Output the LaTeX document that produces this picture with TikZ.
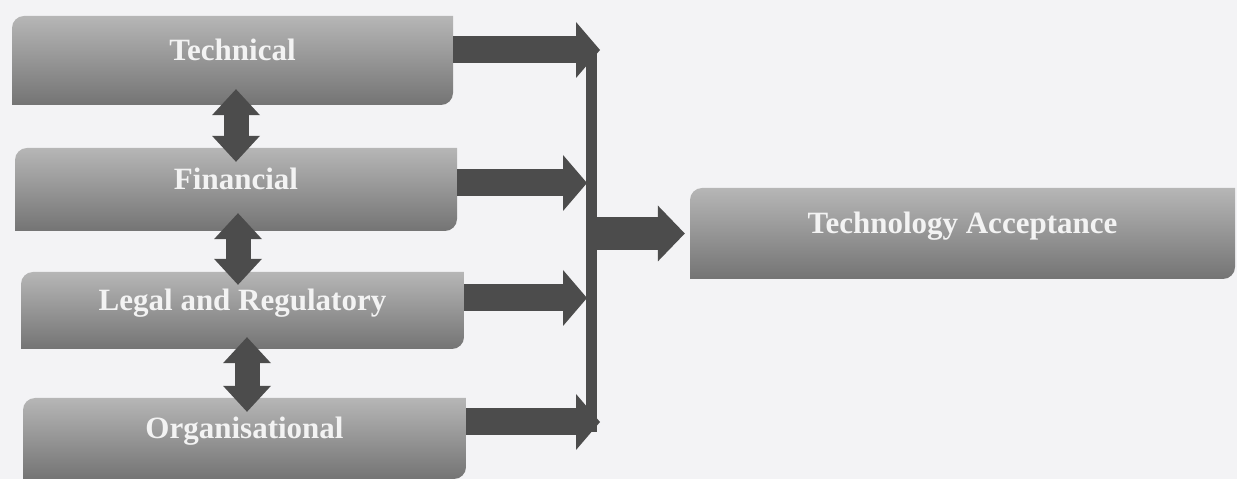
\documentclass[tikz,border=0pt]{standalone}
\usepackage{fontspec}
\setmainfont{Liberation Serif}
\usetikzlibrary{arrows.meta}

\definecolor{pagebg}{RGB}{243,243,245}
\definecolor{boxtop}{RGB}{182,182,182}
\definecolor{boxbot}{RGB}{116,116,116}
\definecolor{arrowgray}{RGB}{76,76,76}
\definecolor{labelwhite}{RGB}{243,243,243}

% box with rounded top left and bottom right corners
\newcommand{\boxr}{12}
\newcommand{\diagshade}{%
	\shade[top color=boxtop, bottom color=boxbot]
		(path picture bounding box.north east)
		-- ([yshift=\boxr pt]path picture bounding box.south east)
		arc[start angle=0, end angle=-90, radius=\boxr]
		-- (path picture bounding box.south west)
		-- ([yshift=-\boxr pt]path picture bounding box.north west)
		arc[start angle=180, end angle=90, radius=\boxr]
		-- cycle;}

\begin{document}
\begin{tikzpicture}[x=1pt, y=1pt,
	factor/.style={inner sep=0pt, text=labelwhite,
		font=\bfseries\fontsize{31}{31}\selectfont,
		text height=20pt, text depth=20pt, path picture={\diagshade}},
	flow/.style={line width=27pt, arrowgray, -{Triangle[length=24pt, width=56pt, line width=0pt]}},
	link/.style={line width=25pt, arrowgray,
		{Triangle[length=26pt, width=48pt, line width=0pt]}-{Triangle[length=26pt, width=48pt, line width=0pt]}},
	merge/.style={line width=33pt, arrowgray, -{Triangle[length=27pt, width=56pt, line width=0pt]}},
	bar/.style={line width=11pt, arrowgray}]

	%Page
	\fill[pagebg] (0,0) rectangle (1237,479);

	%Factor boxes
	\node[factor, minimum width=441pt, minimum height=89pt] (tech) at (232.5,418.5) {Technical};
	\node[factor, minimum width=442pt, minimum height=83pt] (fin) at (236,289.5) {Financial};
	\node[factor, minimum width=443pt, minimum height=77pt] (legal) at (242.5,168.5) {Legal and Regulatory};
	\node[factor, minimum width=443pt, minimum height=81pt] (org) at (244.5,40.5) {Organisational};

	%Outcome box
	\node[factor, minimum width=545pt, minimum height=91pt] (accept) at (962.5,245.5) {Technology Acceptance};

	%Links between factors
	\draw[link] ([xshift=3.5pt, yshift=16pt]tech.south) -- ([yshift=-14pt]fin.north);
	\draw[link] ([xshift=2pt, yshift=18pt]fin.south) -- ([xshift=-4.5pt, yshift=-13pt]legal.north);
	\draw[link] ([xshift=4.5pt, yshift=12pt]legal.south) -- ([xshift=2.5pt, yshift=-14pt]org.north);

	%Collecting bar
	\coordinate (bartop) at (591,433);
	\coordinate (barbot) at (591,47);
	\draw[bar] (bartop) -- (barbot);

	%Arrows into the bar
	\coordinate (tipA) at (600,429);
	\coordinate (tipB) at (587,296);
	\coordinate (tipC) at (587,181);
	\coordinate (tipD) at (600,57);
	\draw[flow] (tech.east |- tipA) -- (tipA);
	\draw[flow] (fin.east |- tipB) -- (tipB);
	\draw[flow] (legal.east |- tipC) -- (tipC);
	\draw[flow] (org.east |- tipD) -- (tipD);

	%Arrow to outcome
	\draw[merge] (accept.west -| bartop) -- ([xshift=-5pt]accept.west);

\end{tikzpicture}
\end{document}
